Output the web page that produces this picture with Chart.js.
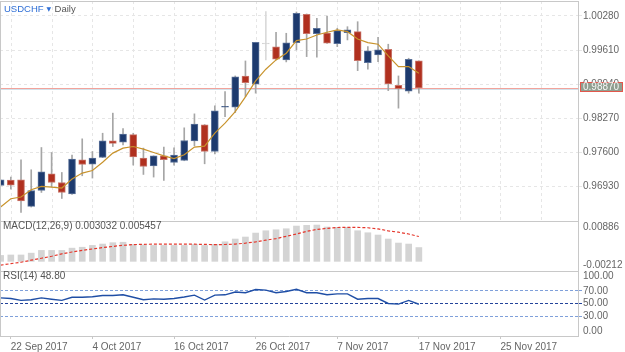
<!DOCTYPE html>
<html>
<head>
<meta charset="utf-8">
<script src="https://cdn.jsdelivr.net/npm/chart.js@4.4.0/dist/chart.umd.min.js"></script>
<style>
html, body { margin: 0; padding: 0; background: #fff; }
#wrap { width: 625px; height: 352px; }
</style>
</head>
<body>
<div id="wrap"><canvas id="chart" width="625" height="352"></canvas></div>
<script>
var FONT = '"Liberation Sans", Arial, "DejaVu Sans", sans-serif';

// daily USDCHF candles, 21 Sep - 17 Nov 2017
var opens  = [0.96955, 0.97061, 0.97067, 0.96544, 0.96857, 0.97184, 0.97014, 0.96787, 0.97459, 0.97374,
              0.97504, 0.97831, 0.97805, 0.97954, 0.97492, 0.97341, 0.97537, 0.97406, 0.97445, 0.97831,
              0.98144, 0.97621, 0.98490, 0.98491, 0.99099, 0.98942, 0.99730, 0.99673, 0.99418, 0.99757,
              1.00313, 0.99933, 0.99947, 0.99737, 0.99953, 0.99972, 0.99365, 0.99516, 0.99628, 0.98922,
              0.98805, 0.99398];
var highs  = [0.97067, 0.97120, 0.97459, 0.97263, 0.97700, 0.97602, 0.97210, 0.97551, 0.97870, 0.97621,
              0.97980, 0.98374, 0.98072, 0.97980, 0.97688, 0.97537, 0.97707, 0.97694, 0.98086, 0.98360,
              0.98150, 0.98517, 0.98797, 0.99104, 0.99398, 0.99765, 1.00364, 0.99961, 0.99941, 1.00358,
              1.00320, 1.00235, 1.00280, 1.00039, 1.00070, 1.00168, 0.99679, 0.99863, 0.99726, 0.99104,
              0.99451, 0.99398];
var lows   = [0.96955, 0.96884, 0.96426, 0.96532, 0.96818, 0.96924, 0.96700, 0.96780, 0.97145, 0.97100,
              0.97500, 0.97719, 0.97753, 0.97355, 0.97171, 0.97120, 0.97053, 0.97355, 0.97440, 0.97733,
              0.97380, 0.97576, 0.98307, 0.98385, 0.98699, 0.98766, 0.99418, 0.99420, 0.99379, 0.99614,
              0.99483, 0.99471, 0.99740, 0.99679, 0.99810, 0.99208, 0.99236, 0.99385, 0.98816, 0.98472,
              0.98766, 0.98766];
var closes = [0.97067, 0.96963, 0.96650, 0.96857, 0.97224, 0.97014, 0.96818, 0.97472, 0.97367, 0.97492,
              0.97831, 0.97778, 0.97962, 0.97517, 0.97327, 0.97537, 0.97459, 0.97551, 0.97837, 0.98158,
              0.97621, 0.98419, 0.98496, 0.99085, 0.98973, 0.99765, 0.99730, 0.99432, 0.99751, 1.00333,
              0.99933, 1.00039, 0.99745, 0.99992, 1.00006, 0.99404, 0.99594, 0.99614, 0.98948, 0.98856,
              0.99432, 0.98870];
var ma     = [0.96532, 0.96695, 0.96728, 0.96871, 0.96936, 0.96924, 0.96904, 0.97081, 0.97198, 0.97249,
              0.97410, 0.97590, 0.97688, 0.97719, 0.97668, 0.97602, 0.97537, 0.97484, 0.97557, 0.97708,
              0.97727, 0.97982, 0.98178, 0.98405, 0.98693, 0.99007, 0.99236, 0.99418, 0.99549, 0.99796,
              0.99829, 0.99908, 0.99961, 1.00006, 0.99972, 0.99829, 0.99757, 0.99726, 0.99496, 0.99287,
              0.99287, 0.99157];

var macd   = [0.00130, 0.00140, 0.00140, 0.00180, 0.00240, 0.00240, 0.00240, 0.00290, 0.00310, 0.00350,
              0.00380, 0.00410, 0.00420, 0.00370, 0.00360, 0.00350, 0.00350, 0.00350, 0.00350, 0.00370,
              0.00350, 0.00373, 0.00430, 0.00490, 0.00534, 0.00621, 0.00672, 0.00694, 0.00716, 0.00775,
              0.00790, 0.00797, 0.00753, 0.00747, 0.00747, 0.00672, 0.00628, 0.00578, 0.00490, 0.00402,
              0.00380, 0.003032];
var signal = [-0.00084, -0.00050, -0.00020, 0.00025, 0.00068, 0.00112, 0.00165, 0.00205, 0.00240, 0.00272,
              0.00302, 0.00328, 0.00352, 0.00368, 0.00374, 0.00377, 0.00378, 0.00378, 0.00377, 0.00376,
              0.00372, 0.00368, 0.00370, 0.00378, 0.00400, 0.00428, 0.00465, 0.00500, 0.00550, 0.00600,
              0.00660, 0.00700, 0.00725, 0.00743, 0.00748, 0.00745, 0.00738, 0.00712, 0.00670, 0.00640,
              0.00600, 0.005457];
var rsi    = [58.8, 57.8, 54.9, 55.9, 58.8, 56.8, 54.9, 59.8, 59.8, 60.7,
              62.7, 62.7, 63.7, 59.8, 55.9, 57.3, 56.8, 57.8, 60.2, 63.2,
              55.4, 63.2, 63.7, 68.0, 67.0, 72.0, 71.0, 67.0, 69.0, 72.4,
              67.0, 67.0, 63.7, 65.1, 65.1, 56.8, 57.8, 57.8, 50.0, 49.0,
              54.9, 48.8];

var dateTicks  = ['22 Sep 2017', '4 Oct 2017', '16 Oct 2017', '26 Oct 2017', '7 Nov 2017', '17 Nov 2017', '25 Nov 2017'];
var priceTicks = [1.0028, 0.9961, 0.9894, 0.9827, 0.9760, 0.9693];
var rsiTicks   = [0, 30, 50, 70, 100];
var rsiLevels  = [30, 50, 70];

var priceMin = 0.96258, priceMax = 1.00574;
var macdMin = -0.00212, macdMax = 0.00886;
var rsiMin = -1.2, rsiMax = 101.2;

var idx = closes.map(function(c, i) { return i; });
var gridIdx = [];
for (var g = 1; g <= 56; g += 4) gridIdx.push(g);

function dateAt(v) {
    return (v - 1) % 8 === 0 ? (dateTicks[(v - 1) / 8] || '') : '';
}

var bodyColor = closes.map(function(c, i) {
    return c > opens[i] ? '#1d3a6e' : c < opens[i] ? '#b0301f' : '#d4d4d4';
});
var bodyBorder = closes.map(function(c, i) {
    return c > opens[i] ? '#5a7199' : c < opens[i] ? '#c8756a' : '#d4d4d4';
});
var wickColor = closes.map(function(c, i) {
    return c === opens[i] ? '#dadada' : '#a6a6a6';
});

function pts(arr) {
    return idx.map(function(i) { return {x: i, y: arr[i]}; });
}

// stacked panes: keep the axes from reserving room for edge labels
function fitRight(s) {
    s.width = 47;
    s.paddingTop = 0;
    s.paddingBottom = 0;
}

var paneDeco = {
    id: 'paneDeco',
    beforeDatasetsDraw: function(chart) {
        var ctx = chart.ctx, a = chart.chartArea, x = chart.scales.x, y = chart.scales.y;
        ctx.save();
        ctx.lineWidth = 1;
        ctx.strokeStyle = '#e6e6e6';
        ctx.setLineDash([3, 3]);
        x.ticks.forEach(function(t) {
            var px = Math.round(x.getPixelForValue(t.value)) + 0.5;
            ctx.beginPath();
            ctx.moveTo(px, y.top);
            ctx.lineTo(px, y.bottom);
            ctx.stroke();
        });
        ctx.setLineDash([]);
        var py = Math.round(y.getPixelForValue(closes[closes.length - 1])) + 0.5;
        ctx.strokeStyle = '#f2a39b';
        ctx.beginPath(); ctx.moveTo(a.left, py); ctx.lineTo(a.right, py); ctx.stroke();
        ctx.strokeStyle = '#d3e1ea';
        ctx.beginPath(); ctx.moveTo(a.left, py + 1); ctx.lineTo(a.right, py + 1); ctx.stroke();
        ctx.restore();
    },
    afterDraw: function(chart) {
        var ctx = chart.ctx, a = chart.chartArea, s = chart.scales;
        ctx.save();
        ctx.lineWidth = 1;
        ctx.strokeStyle = '#c8c8c8';
        [a.top, s.yMacd.top, s.yRsi.top].forEach(function(t) {
            var py = Math.round(t) + 0.5;
            ctx.beginPath(); ctx.moveTo(a.left, py); ctx.lineTo(a.right, py); ctx.stroke();
        });
        ctx.beginPath(); ctx.moveTo(a.left + 0.5, a.top); ctx.lineTo(a.left + 0.5, a.bottom); ctx.stroke();

        // header
        ctx.textBaseline = 'middle';
        ctx.textAlign = 'left';
        ctx.font = '9.5px ' + FONT;
        ctx.fillStyle = '#2f6fd6';
        ctx.fillText('USDCHF', 4, 9);
        var w = ctx.measureText('USDCHF').width;
        ctx.font = '6px "DejaVu Sans", sans-serif';
        ctx.fillText('\u25BC', 4 + w + 3, 9.5);
        ctx.font = '9.5px ' + FONT;
        ctx.fillStyle = '#555';
        ctx.fillText('Daily', 4 + w + 11, 9);

        // indicator titles
        ctx.font = '10px ' + FONT;
        ctx.fillStyle = '#555';
        ctx.fillText('MACD(12,26,9) ' + macd[macd.length - 1].toFixed(6) + ' ' + signal[signal.length - 1].toFixed(6), 3, s.yMacd.top + 5.5);
        ctx.fillText('RSI(14) ' + rsi[rsi.length - 1].toFixed(2), 3, s.yRsi.top + 5.5);

        // last price box
        var last = closes[closes.length - 1];
        var py = Math.round(s.y.getPixelForValue(last));
        ctx.fillStyle = '#909f90';
        ctx.fillRect(a.right + 2, py - 6, 43, 10);
        ctx.strokeStyle = '#e2574c';
        ctx.strokeRect(a.right + 2.5, py - 5.5, 42, 9);
        ctx.fillStyle = '#f6f6f6';
        ctx.fillText(last.toFixed(5), a.right + 5, py - 0.5);
        ctx.restore();
    }
};

var tickFont = {family: FONT, size: 10};

new Chart(document.getElementById('chart'), {
    type: 'bar',
    data: {
        datasets: [
            {type: 'line', label: 'MA', data: pts(ma), yAxisID: 'y', borderColor: '#c8932c', borderWidth: 1.2,
             pointRadius: 0, order: 0},
            {type: 'bar', label: 'Body', data: idx.map(function(i) { return {x: i, y: [opens[i], closes[i]]}; }),
             yAxisID: 'y', backgroundColor: bodyColor, borderColor: bodyBorder, borderWidth: 1, borderSkipped: false,
             barThickness: 7, minBarLength: 1, grouped: false, order: 1},
            {type: 'bar', label: 'Wick', data: idx.map(function(i) { return {x: i, y: [lows[i], highs[i]]}; }),
             yAxisID: 'y', backgroundColor: wickColor, barThickness: 1, grouped: false, order: 2},
            {type: 'bar', label: 'MACD', data: pts(macd), yAxisID: 'yMacd', backgroundColor: '#d4d4d4',
             barThickness: 6, grouped: false, order: 4},
            {type: 'line', label: 'Signal', data: pts(signal), yAxisID: 'yMacd', borderColor: '#e5372c',
             borderDash: [3, 2], borderWidth: 1.2, pointRadius: 0, order: 3},
            {type: 'line', label: 'RSI', data: pts(rsi), yAxisID: 'yRsi', borderColor: '#1f4ea5',
             borderWidth: 1.4, pointRadius: 0, order: 3}
        ]
    },
    options: {
        responsive: false,
        devicePixelRatio: 1,
        animation: false,
        layout: {padding: {top: 1, left: 0, right: 0, bottom: 0}},
        plugins: {legend: {display: false}, tooltip: {enabled: false}},
        scales: {
            x: {
                type: 'linear', position: 'bottom', min: -0.06, max: 56.6, offset: false,
                afterBuildTicks: function(s) { s.ticks = gridIdx.map(function(v) { return {value: v}; }); },
                afterFit: function(s) { s.height = 16; s.paddingLeft = 0; s.paddingRight = 0; },
                grid: {drawOnChartArea: false, tickLength: 3, offset: false,
                       color: function(c) { return c.tick && dateAt(c.tick.value) ? '#c8c8c8' : 'rgba(0,0,0,0)'; }},
                border: {display: true, color: '#c8c8c8'},
                ticks: {align: 'start', autoSkip: false, maxRotation: 0, padding: 2, color: '#666', font: tickFont,
                        callback: function(v) { return dateAt(v); }}
            },
            y: {
                type: 'linear', position: 'right', stack: 'panes', stackWeight: 220, min: priceMin, max: priceMax,
                afterBuildTicks: function(s) { s.ticks = priceTicks.map(function(v) { return {value: v}; }); },
                afterFit: fitRight,
                grid: {color: '#e6e6e6', tickLength: 4, tickBorderDash: [3, 3]},
                border: {display: true, color: '#c8c8c8', dash: [3, 3]},
                ticks: {autoSkip: false, padding: 1, color: '#666', font: tickFont,
                        callback: function(v) { return v.toFixed(5); }}
            },
            yMacd: {
                type: 'linear', position: 'right', stack: 'panes', stackWeight: 50, min: macdMin, max: macdMax,
                afterBuildTicks: function(s) { s.ticks = [{value: macdMin}, {value: macdMax}]; },
                afterFit: fitRight,
                grid: {drawOnChartArea: false, tickLength: 4, color: 'rgba(0,0,0,0)'},
                border: {display: true, color: '#c8c8c8'},
                ticks: {autoSkip: false, padding: 1, color: '#666', font: {family: FONT, size: 10, lineHeight: 1.2},
                        callback: function(v) { return v < 0 ? [v.toFixed(5), ''] : ['', v.toFixed(5)]; }}
            },
            yRsi: {
                type: 'linear', position: 'right', stack: 'panes', stackWeight: 65, min: rsiMin, max: rsiMax,
                afterBuildTicks: function(s) { s.ticks = rsiTicks.map(function(v) { return {value: v}; }); },
                afterFit: fitRight,
                grid: {tickLength: 4, tickBorderDash: [3, 2],
                       color: function(c) {
                           if (!c.tick || rsiLevels.indexOf(c.tick.value) < 0) return 'rgba(0,0,0,0)';
                           return c.tick.value === 50 ? '#23439a' : '#7fa0da';
                       }},
                border: {display: true, color: '#c8c8c8', dash: [3, 2]},
                ticks: {autoSkip: false, padding: 1, color: '#666', font: {family: FONT, size: 10, lineHeight: 0.8},
                        callback: function(v) {
                            if (v === 100) return ['', v.toFixed(2)];
                            if (v === 0) return [v.toFixed(2), ''];
                            return v.toFixed(2);
                        }}
            }
        }
    },
    plugins: [paneDeco]
});
</script>
</body>
</html>
